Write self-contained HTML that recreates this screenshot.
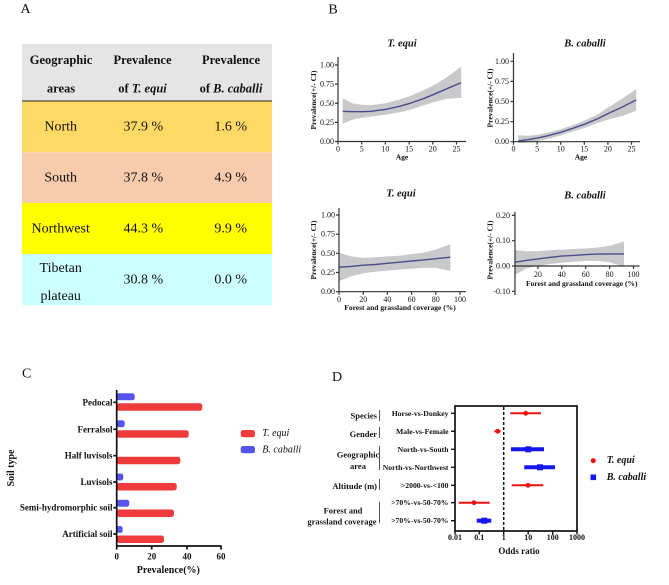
<!DOCTYPE html>
<html><head><meta charset="utf-8"><style>
html,body{margin:0;padding:0;background:#fff;}
svg{display:block;}
text{font-family:"Liberation Serif","DejaVu Serif",serif;fill:#111;}
.b{font-weight:bold;}
.i{font-style:italic;}
.ax{stroke:#333;stroke-width:1.2;fill:none;}
.band{fill:#c9c9cb;stroke:none;}
.ln{stroke:#4a4c8c;stroke-width:1.4;fill:none;}
.tk{font-size:8px;}
.al{font-size:7.5px;font-weight:bold;}
</style></head><body>
<svg width="669" height="585" viewBox="0 0 669 585" xmlns="http://www.w3.org/2000/svg">
<rect width="669" height="585" fill="#fff"/>

<!-- Panel labels -->
<text x="25.5" y="9.5" font-size="14" text-anchor="middle" dominant-baseline="central">A</text>
<text x="333" y="10" font-size="14" text-anchor="middle" dominant-baseline="central">B</text>
<text x="26.7" y="374" font-size="14" text-anchor="middle" dominant-baseline="central">C</text>
<text x="337" y="377.5" font-size="14" text-anchor="middle" dominant-baseline="central">D</text>

<!-- ===== Panel A table ===== -->
<rect x="22" y="44" width="250" height="57" fill="#e5e5e5"/>
<rect x="22" y="101" width="250" height="51.3" fill="#ffd966"/>
<rect x="22" y="152.3" width="250" height="50.7" fill="#f8cbad"/>
<rect x="22" y="203" width="250" height="51" fill="#ffff00"/>
<rect x="22" y="254" width="250" height="51" fill="#ccffff"/>
<line x1="22" y1="101" x2="272" y2="101" stroke="#6b5e4e" stroke-width="1.5"/>
<g font-size="12.5" font-weight="bold" text-anchor="middle" dominant-baseline="central">
<text x="61" y="60">Geographic</text>
<text x="61" y="88.3">areas</text>
<text x="142.5" y="60">Prevalence</text>
<text x="142.5" y="88.3">of <tspan font-style="italic">T. equi</tspan></text>
<text x="231" y="60">Prevalence</text>
<text x="231" y="88.3">of <tspan font-style="italic">B. caballi</tspan></text>
</g>
<g font-size="14" text-anchor="middle" dominant-baseline="central">
<text x="60.7" y="127">North</text>
<text x="143.3" y="127">37.9 %</text>
<text x="230.7" y="127">1.6 %</text>
<text x="60.7" y="178">South</text>
<text x="143.3" y="178">37.8 %</text>
<text x="230.7" y="178">4.9 %</text>
<text x="60.7" y="229">Northwest</text>
<text x="143.3" y="229">44.3 %</text>
<text x="230.7" y="229">9.9 %</text>
<text x="60.7" y="268.3">Tibetan</text>
<text x="60.7" y="296.7">plateau</text>
<text x="143.3" y="280">30.8 %</text>
<text x="230.7" y="280">0.0 %</text>
</g>

<!-- ===== Panel B top-left ===== -->
<text x="402" y="44" font-size="10.5" class="b i" text-anchor="middle" dominant-baseline="central">T. equi</text>
<polygon class="band" points="342.7,98.3 352.2,103.3 361.7,104.8 371.2,105.2 385.4,103.3 399.6,99.4 409.1,96.4 423.3,90.2 432.8,85.7 447.0,77.2 461.2,66.5 461.2,97.9 447.0,98.7 432.8,102.5 423.3,105.5 409.1,110.1 399.6,112.4 385.4,114.7 371.2,116.6 361.7,117.8 352.2,119.7 342.7,123.9"/>
<polyline class="ln" points="342.7,111.3 352.2,111.7 361.7,111.7 371.2,111.3 385.4,109.4 399.6,106.3 409.1,103.6 423.3,98.7 432.8,94.8 447.0,88.7 461.2,82.6"/>
<path class="ax" d="M338,57 V141.5 H466 M335,65 H338 M335,84.1 H338 M335,103.25 H338 M335,122.4 H338 M335,141.5 H338 M338,141.5 V144.5 M361.7,141.5 V144.5 M385.4,141.5 V144.5 M409.1,141.5 V144.5 M432.8,141.5 V144.5 M456.5,141.5 V144.5"/>
<g class="tk" text-anchor="end" dominant-baseline="central">
<text x="334" y="65">1.00</text><text x="334" y="84.1">0.75</text><text x="334" y="103.25">0.50</text><text x="334" y="122.4">0.25</text><text x="334" y="141.5">0.00</text>
</g>
<g class="tk" text-anchor="middle" dominant-baseline="central">
<text x="338" y="149">0</text><text x="361.7" y="149">5</text><text x="385.4" y="149">10</text><text x="409.1" y="149">15</text><text x="432.8" y="149">20</text><text x="456.5" y="149">25</text>
</g>
<text x="402" y="157" class="al" text-anchor="middle" dominant-baseline="central">Age</text>
<text transform="translate(313.5,100) rotate(-90)" class="al" text-anchor="middle" dominant-baseline="central">Prevalence(+/- CI)</text>

<!-- ===== Panel B top-right ===== -->
<text x="585" y="44" font-size="10.5" class="b i" text-anchor="middle" dominant-baseline="central">B. caballi</text>
<polygon class="band" points="518.2,135.3 527.7,135.7 537.1,134.9 546.5,132.9 560.7,129.1 574.9,124.4 584.3,120.6 598.5,114.0 607.9,107.5 622.1,98.7 636.2,89.0 636.2,110.7 622.1,116.0 607.9,119.6 598.5,122.8 584.3,128.0 574.9,130.8 560.7,135.5 546.5,139.3 537.1,141.3 527.7,142.5 518.2,143.3"/>
<polyline class="ln" points="518.2,140.9 527.7,139.7 537.1,138.1 546.5,136.1 560.7,132.3 574.9,127.6 584.3,124.3 598.5,118.4 607.9,113.6 622.1,107.1 636.2,99.9"/>
<path class="ax" d="M513.5,53 V141.7 H640 M510.5,61.3 H513.5 M510.5,81.4 H513.5 M510.5,101.5 H513.5 M510.5,121.6 H513.5 M510.5,141.7 H513.5 M513.5,141.7 V144.7 M537.1,141.7 V144.7 M560.7,141.7 V144.7 M584.3,141.7 V144.7 M607.9,141.7 V144.7 M631.5,141.7 V144.7"/>
<g class="tk" text-anchor="end" dominant-baseline="central">
<text x="509" y="61.3">1.00</text><text x="509" y="81.4">0.75</text><text x="509" y="101.5">0.50</text><text x="509" y="121.6">0.25</text><text x="509" y="141.7">0.00</text>
</g>
<g class="tk" text-anchor="middle" dominant-baseline="central">
<text x="513.5" y="149">0</text><text x="537.1" y="149">5</text><text x="560.7" y="149">10</text><text x="584.3" y="149">15</text><text x="607.9" y="149">20</text><text x="631.5" y="149">25</text>
</g>
<text x="581" y="157" class="al" text-anchor="middle" dominant-baseline="central">Age</text>
<text transform="translate(490,98) rotate(-90)" class="al" text-anchor="middle" dominant-baseline="central">Prevalence(+/- CI)</text>

<!-- ===== Panel B bottom-left ===== -->
<text x="401" y="194" font-size="10.5" class="b i" text-anchor="middle" dominant-baseline="central">T. equi</text>
<polygon class="band" points="339,252.6 351.1,256.4 363.2,257.9 375.3,257.2 387.4,256.4 399.5,255.7 411.6,254.1 423.7,252.6 435.8,249.5 450.3,244.1 450.3,271.0 435.8,267.9 423.7,267.9 411.6,268.7 399.5,269.5 387.4,270.6 375.3,271.8 363.2,273.3 351.1,276.4 339,281.0"/>
<polyline class="ln" points="339,267.2 351.1,266.4 363.2,265.2 375.3,264.5 387.4,263.3 399.5,262.2 411.6,261.0 423.7,259.9 435.8,258.7 450.3,257.2"/>
<path class="ax" d="M339,208 V291.7 H466 M336,215 H339 M336,234.2 H339 M336,253.3 H339 M336,272.5 H339 M336,291.7 H339 M339,291.7 V294.7 M363.2,291.7 V294.7 M387.4,291.7 V294.7 M411.6,291.7 V294.7 M435.8,291.7 V294.7 M460,291.7 V294.7"/>
<g class="tk" text-anchor="end" dominant-baseline="central">
<text x="335" y="215">1.00</text><text x="335" y="234.2">0.75</text><text x="335" y="253.3">0.50</text><text x="335" y="272.5">0.25</text><text x="335" y="291.7">0.00</text>
</g>
<g class="tk" text-anchor="middle" dominant-baseline="central">
<text x="339" y="299.5">0</text><text x="363.2" y="299.5">20</text><text x="387.4" y="299.5">40</text><text x="411.6" y="299.5">60</text><text x="435.8" y="299.5">80</text><text x="460" y="299.5">100</text>
</g>
<text x="400" y="307.5" class="al" text-anchor="middle" dominant-baseline="central">Forest and grassland coverage (%)</text>
<text transform="translate(313.5,250) rotate(-90)" class="al" text-anchor="middle" dominant-baseline="central">Prevalence(+/- CI)</text>

<!-- ===== Panel B bottom-right ===== -->
<text x="585" y="196" font-size="10.5" class="b i" text-anchor="middle" dominant-baseline="central">B. caballi</text>
<polygon class="band" points="515.2,250.1 526,251.3 537.9,251.3 549.9,250.3 561.8,249.6 573.8,249.0 585.7,248.5 597.7,247.5 609.6,245.8 624,241.5 624,266.8 609.6,262.2 597.7,260.9 585.7,260.9 573.8,261.7 561.8,262.7 549.9,264 537.9,266 526,268.5 515.2,274.9"/>
<polyline class="ln" points="515.2,262.2 526,260.4 537.9,258.9 549.9,257.4 561.8,256.1 573.8,255.4 585.7,254.6 597.7,254.1 609.6,253.9 624,253.9"/>
<path class="ax" d="M515,211.7 V295 M515,266 H639.5 M512,215.4 H515 M512,240.7 H515 M512,266 H515 M512,291.3 H515 M537.9,266 V269 M561.8,266 V269 M585.7,266 V269 M609.6,266 V269 M633.5,266 V269"/>
<g class="tk" text-anchor="end" dominant-baseline="central">
<text x="510" y="215.4">0.20</text><text x="510" y="240.7">0.10</text><text x="510" y="266">0.00</text><text x="510" y="291.3">-0.10</text>
</g>
<g class="tk" text-anchor="middle" dominant-baseline="central">
<text x="537.9" y="274.5">20</text><text x="561.8" y="274.5">40</text><text x="585.7" y="274.5">60</text><text x="609.6" y="274.5">80</text><text x="633.5" y="274.5">100</text>
</g>
<text x="581.7" y="283.5" class="al" text-anchor="middle" dominant-baseline="central">Forest and grassland coverage (%)</text>
<text transform="translate(490,250) rotate(-90)" class="al" text-anchor="middle" dominant-baseline="central">Prevalence(+/- CI)</text>

<!-- ===== Panel C ===== -->
<g fill="#5555ee">
<rect x="116.7" y="393.3" width="18" height="7" rx="2.5"/>
<rect x="116.7" y="420.3" width="8" height="7" rx="2.5"/>
<rect x="116.7" y="473.5" width="6.6" height="7" rx="2.5"/>
<rect x="116.7" y="499.7" width="12.6" height="7" rx="2.5"/>
<rect x="116.7" y="526" width="6" height="7" rx="2.5"/>
</g>
<g fill="#ef3b3b">
<rect x="116.7" y="403.3" width="85.6" height="7.5" rx="2.5"/>
<rect x="116.7" y="430.3" width="72" height="7.5" rx="2.5"/>
<rect x="116.7" y="456.7" width="63.6" height="7.5" rx="2.5"/>
<rect x="116.7" y="483" width="60" height="7.5" rx="2.5"/>
<rect x="116.7" y="509.5" width="57.3" height="7.5" rx="2.5"/>
<rect x="116.7" y="535.5" width="47.3" height="7.5" rx="2.5"/>
</g>
<path d="M116.7,390 V546 H221.7 M113.3,402.3 H116.7 M113.3,429.3 H116.7 M113.3,455.7 H116.7 M113.3,482 H116.7 M113.3,507.7 H116.7 M113.3,534 H116.7 M116.7,546 V549.5 M151.7,546 V549.5 M187,546 V549.5 M221,546 V549.5" stroke="#111" stroke-width="1.7" fill="none"/>
<g font-size="9" font-weight="bold" text-anchor="end" dominant-baseline="central">
<text x="112.5" y="402.3">Pedocal</text>
<text x="112.5" y="429.3">Ferralsol</text>
<text x="112.5" y="455.7">Half luvisols</text>
<text x="112.5" y="482">Luvisols</text>
<text x="112.5" y="507.7">Semi-hydromorphic soil</text>
<text x="112.5" y="534">Artificial soil</text>
</g>
<g font-size="9" font-weight="bold" text-anchor="middle" dominant-baseline="central">
<text x="116.7" y="556.7">0</text><text x="151.7" y="556.7">20</text><text x="187" y="556.7">40</text><text x="221" y="556.7">60</text>
</g>
<text x="168.3" y="570.7" font-size="10" font-weight="bold" text-anchor="middle" dominant-baseline="central">Prevalence(%)</text>
<text transform="translate(11.7,468) rotate(-90)" font-size="10" font-weight="bold" text-anchor="middle" dominant-baseline="central">Soil type</text>
<rect x="240.7" y="430" width="14.3" height="7.3" rx="2.5" fill="#ef3b3b"/>
<rect x="240.7" y="446" width="14.3" height="7.3" rx="2.5" fill="#5555ee"/>
<text x="262.3" y="433.7" font-size="10" font-style="italic" dominant-baseline="central">T. equi</text>
<text x="262.3" y="450" font-size="10" font-style="italic" dominant-baseline="central">B. caballi</text>

<!-- ===== Panel D ===== -->
<line x1="503.7" y1="407" x2="503.7" y2="530" stroke="#111" stroke-width="1.5" stroke-dasharray="3,2"/>
<rect x="455" y="406" width="122" height="125" fill="none" stroke="#111" stroke-width="1.7"/>
<path d="M451,413.3 H455 M451,431.3 H455 M451,449.3 H455 M451,467.3 H455 M451,485.3 H455 M451,502.7 H455 M451,520.7 H455 M455,531 V534.5 M479.2,531 V534.5 M503.7,531 V534.5 M528.2,531 V534.5 M552.7,531 V534.5 M577,531 V534.5" stroke="#111" stroke-width="1.4" fill="none"/>
<g stroke="#ee1111" stroke-width="2">
<line x1="510.3" y1="413.3" x2="541" y2="413.3"/>
<line x1="494.3" y1="431.3" x2="500.7" y2="431.3"/>
<line x1="511.7" y1="485.3" x2="543.3" y2="485.3"/>
<line x1="458.7" y1="502.7" x2="489.7" y2="502.7"/>
</g>
<g fill="#ee1111">
<circle cx="525.7" cy="413.3" r="2.4"/>
<circle cx="497.7" cy="431.3" r="2.4"/>
<circle cx="528" cy="485.3" r="2.4"/>
<circle cx="474" cy="502.7" r="2.4"/>
</g>
<g stroke="#1515ee" stroke-width="4">
<line x1="511" y1="449.3" x2="544" y2="449.3"/>
<line x1="524.3" y1="467.3" x2="555" y2="467.3"/>
<line x1="476.7" y1="520.7" x2="491.3" y2="520.7"/>
</g>
<g fill="#1515ee">
<rect x="525.3" y="446.3" width="6" height="6"/>
<rect x="537" y="464.3" width="6" height="6"/>
<rect x="481.3" y="517.7" width="6" height="6"/>
</g>
<g font-size="7.7" font-weight="bold" text-anchor="end" dominant-baseline="central">
<text x="448.5" y="413.3">Horse-vs-Donkey</text>
<text x="448.5" y="431.3">Male-vs-Female</text>
<text x="448.5" y="449.3">North-vs-South</text>
<text x="448.5" y="467.3">North-vs-Northwest</text>
<text x="448.5" y="485.3">&gt;2000-vs-&lt;100</text>
<text x="448.5" y="502.7">&gt;70%-vs-50-70%</text>
<text x="448.5" y="520.7">&gt;70%-vs-50-70%</text>
</g>
<g font-size="8.5" font-weight="bold" dominant-baseline="central">
<text x="377" y="415.3" text-anchor="end">Species</text>
<text x="377" y="434" text-anchor="end">Gender</text>
<text x="358" y="454.3" text-anchor="middle">Geographic</text>
<text x="358" y="466" text-anchor="middle">area</text>
<text x="377" y="486" text-anchor="end">Altitude (m)</text>
<text x="343" y="510.5" text-anchor="middle">Forest and</text>
<text x="376.5" y="521.7" text-anchor="end">grassland coverage</text>
</g>
<path d="M379.5,410 V421 M379.5,427 V438 M379.5,446 V470 M379.5,479 V490 M379.5,501.7 V523.3" stroke="#555" stroke-width="1" fill="none"/>
<g font-size="8" font-weight="bold" text-anchor="middle" dominant-baseline="central">
<text x="455" y="537.7">0.01</text><text x="479.2" y="537.7">0.1</text><text x="503.7" y="537.7">1</text><text x="528.2" y="537.7">10</text><text x="552.7" y="537.7">100</text><text x="577" y="537.7">1000</text>
</g>
<text x="519" y="551" font-size="9" font-weight="bold" text-anchor="middle" dominant-baseline="central">Odds ratio</text>
<circle cx="593.3" cy="460.7" r="2.5" fill="#ee1111"/>
<rect x="590.5" y="474.5" width="5.6" height="5.6" fill="#1515ee"/>
<text x="606.7" y="460.7" font-size="10" class="b i" dominant-baseline="central">T. equi</text>
<text x="606.7" y="477.3" font-size="10" class="b i" dominant-baseline="central">B. caballi</text>
</svg>
</body></html>
